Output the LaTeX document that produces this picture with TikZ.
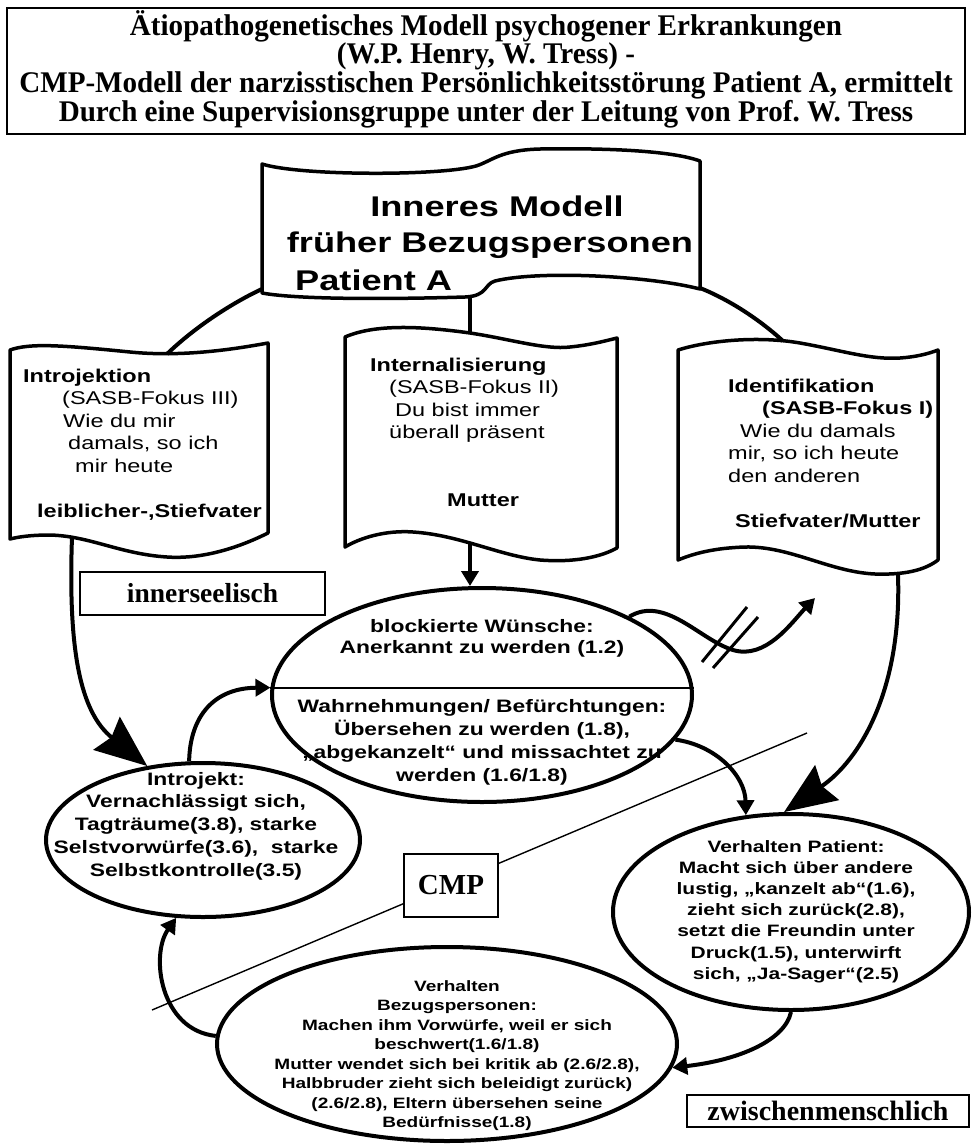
\documentclass[tikz,border=0pt]{standalone}
\usepackage{fontspec}
\usetikzlibrary{shapes.geometric,arrows.meta}
\newfontfamily\wsans{Liberation Sans}[FakeStretch=1.27]
\newfontfamily\tser{Liberation Serif}
\newfontfamily\tsernarrow{Liberation Serif}[FakeStretch=0.97]
% stacked lines with a fixed baseline distance; the box baseline is the first line
\newcommand\centerlines[2]{\vtop{\baselineskip=#1\lineskiplimit=-1000pt\halign{\hfil##\hfil\cr#2\crcr}}}
\newcommand\leftlines[2]{\vtop{\baselineskip=#1\lineskiplimit=-1000pt\halign{##\hfil\cr#2\crcr}}}
\frenchspacing

\begin{document}
\begin{tikzpicture}[x=1pt,y=-1pt,
  frame/.style={draw, line width=2.5pt, inner sep=0pt},
  docline/.style={draw, line width=3.5pt, line join=round, fill=white},
  conn/.style={line width=4pt},
  tip/.style={-{Triangle[width=17pt,length=15pt]}},
  bigtip/.style={-{Stealth[width=42pt,length=52pt,inset=6pt]}},
  ring/.style={ellipse, draw, line width=4pt, fill=white, inner sep=0pt},
  txt/.style={inner sep=0pt, anchor=base},
  serifbox/.style={draw, line width=2.2pt, inner sep=0pt, fill=white,
    font=\tser\bfseries\fontsize{27.5}{30}\selectfont},
]
\useasboundingbox (0,0) rectangle (972,1144);
\fill[white] (0,0) rectangle (972,1144);

% ---------- heading ----------
\node[frame, minimum width=958pt, minimum height=126pt] (head) at (486,71) {};
\node[txt, font=\tsernarrow\bfseries\fontsize{30}{29}\selectfont] (headtxt) at (486,35)
  {\centerlines{28.8pt}{Ätiopathogenetisches Modell psychogener Erkrankungen\cr
   (W.P. Henry, W. Tress) -\cr
   CMP-Modell der narzisstischen Persönlichkeitsstörung Patient A, ermittelt\cr
   Durch eine Supervisionsgruppe unter der Leitung von Prof. W. Tress}};

% ---------- dividing line with the CMP label ----------
\coordinate (cut1) at (152,1010);
\coordinate (cut2) at (807,733);
\draw[line width=1.4pt] (cut1) -- (cut2);
\node[serifbox, minimum width=94pt, minimum height=63pt,
  font=\tser\bfseries\fontsize{29}{30}\selectfont] (cmp) at (451,885.5) {CMP};

% ---------- inner model (top sheet) ----------
\draw[docline] (262,164) .. controls (300,176) and (440,176) .. (476,166)
  .. controls (492,161) and (500,150) .. (540,149)
  .. controls (600,148) and (670,150) .. (700,161)
  -- (700,289) .. controls (650,276) and (540,270) .. (495,281)
  .. controls (484,284) and (488,296) .. (465,297)
  .. controls (400,299) and (300,300) .. (262,293) -- cycle;
\coordinate (Tbl) at (262,289);
\coordinate (Tbr) at (700,288);
\coordinate (Tbot) at (470,297);
\node[txt, font=\wsans\bfseries\fontsize{28.5}{36}\selectfont] (inner1) at (497,216) {Inneres Modell};
\node[txt, font=\wsans\bfseries\fontsize{28.5}{36}\selectfont] (inner2) at (490,252) {früher Bezugspersonen};
\node[txt, anchor=base west, font=\wsans\bfseries\fontsize{28.5}{36}\selectfont] (inner3) at (295,290) {Patient A};

% ---------- Introjektion sheet ----------
\draw[docline] (10,350) .. controls (30,343) and (60,345) .. (130,352)
  .. controls (180,357) and (230,350) .. (268,343)
  -- (268,533) .. controls (230,552) and (195,559) .. (167,557)
  .. controls (120,554) and (90,536) .. (50,535)
  .. controls (30,535) and (18,537) .. (10,539) -- cycle;
\coordinate (Ltop) at (167,354);
\coordinate (Lbot) at (72,537);
\node[txt, anchor=base west, font=\wsans\fontsize{18.5}{22}\selectfont] (introtxt) at (23,382)
  {\leftlines{22.6pt}{\bfseries Introjektion\cr
   \kern39pt(SASB-Fokus III)\cr
   \kern40pt Wie du mir\cr
   \kern45pt damals, so ich\cr
   \kern52pt mir heute\cr
   \cr
   \kern14pt\bfseries leiblicher-,Stiefvater}};

% ---------- Internalisierung sheet ----------
\draw[docline] (345,337) .. controls (375,324) and (420,326) .. (470,333)
  .. controls (510,339) and (545,350) .. (570,347)
  .. controls (590,345) and (605,341) .. (617,338)
  -- (617,548) .. controls (595,560) and (565,562) .. (540,560)
  .. controls (500,556) and (460,535) .. (413,532)
  .. controls (385,530) and (360,538) .. (345,547) -- cycle;
\coordinate (Mtop) at (470,333);
\coordinate (Mbot) at (470,542);
\node[txt, anchor=base west, font=\wsans\fontsize{18.5}{22}\selectfont] (interntxt) at (370,371)
  {\leftlines{22.5pt}{\bfseries Internalisierung\cr
   \kern19pt(SASB-Fokus II)\cr
   \kern25pt Du bist immer\cr
   \kern19pt überall präsent\cr
   \cr
   \cr
   \kern77pt\bfseries Mutter}};

% ---------- Identifikation sheet ----------
\draw[docline] (678,350) .. controls (710,340) and (760,336) .. (800,343)
  .. controls (840,350) and (870,360) .. (900,358)
  .. controls (915,357) and (928,354) .. (938,350)
  -- (938,560) .. controls (925,570) and (905,575) .. (875,574)
  .. controls (830,572) and (790,546) .. (745,547)
  .. controls (715,548) and (695,553) .. (678,560) -- cycle;
\coordinate (Rtop) at (783,341);
\coordinate (Rbot) at (898,575);
\node[txt, anchor=base west, font=\wsans\fontsize{18.5}{22}\selectfont] (identtxt) at (728,392)
  {\leftlines{22.6pt}{\bfseries Identifikation\cr
   \kern34pt\bfseries (SASB-Fokus I)\cr
   \kern12pt Wie du damals\cr
   mir, so ich heute\cr
   den anderen\cr
   \cr
   \kern7pt\bfseries Stiefvater/Mutter}};

% ---------- side labels ----------
\node[serifbox, minimum width=245pt, minimum height=43pt] (innerlbl) at (202.5,593.5) {innerseelisch};
\node[serifbox, minimum width=282pt, minimum height=32pt,
  font=\tser\bfseries\fontsize{28}{30}\selectfont] (interlbl) at (828,1111) {zwischenmenschlich};

% ---------- the cycle ----------
\node[ring, minimum width=420pt, minimum height=214pt] (wish) at (482,695) {};
\draw[line width=2pt] (wish.178) -- (wish.2);
\node[ring, minimum width=314pt, minimum height=154pt] (introj) at (203,840) {};
\node[ring, minimum width=356pt, minimum height=196pt] (patient) at (791,912) {};
\node[ring, minimum width=460pt, minimum height=194pt] (others) at (447,1044) {};

% connectors
\draw[conn] (Tbl) .. controls (232,303) and (195,327) .. (Ltop);
\draw[conn] (Tbr) .. controls (730,300) and (760,320) .. (Rtop);
\draw[conn] (Tbot) -- (Mtop);
\draw[conn, tip] (Mbot) -- (Mbot |- wish.north);
\draw[conn, bigtip] (Lbot) .. controls (68,650) and (80,712) .. (introj.127);
\draw[conn, bigtip] (Rbot) .. controls (902,690) and (860,760) .. (patient.94);
\draw[conn, tip] (wish.-13.6) .. controls (715,745) and (745,775) .. (patient.115);
\coordinate (blocked) at (815,598);
\draw[conn, tip] (wish.28) .. controls (665,595) and (700,640) .. (733,650)
  .. controls (766,660) and (792,622) .. (blocked);
\draw[line width=3pt] (702,662) -- (747,607);
\draw[line width=3pt] (713,668) -- (758,617);
\draw[conn, tip] (introj.100) .. controls (190,715) and (215,688) .. (wish.178);
\draw[conn, tip] (patient.south) .. controls (785,1040) and (740,1060) .. (others.-6);
\draw[conn, tip] (others.178) .. controls (160,1030) and (150,955) .. (introj.251);

% ---------- texts in the cycle ----------
\node[txt, font=\wsans\bfseries\fontsize{18}{21}\selectfont] (wishtop) at (482,632)
  {\centerlines{21.5pt}{blockierte Wünsche:\cr Anerkannt zu werden (1.2)}};
\node[txt, font=\wsans\bfseries\fontsize{18}{21}\selectfont] (wishbot) at (482,712)
  {\centerlines{23.3pt}{Wahrnehmungen/ Befürchtungen:\cr
   Übersehen zu werden (1.8),\cr
   „abgekanzelt“ und missachtet zu\cr
   werden (1.6/1.8)}};
\node[txt, font=\wsans\bfseries\fontsize{18}{21}\selectfont] (introjtxt) at (196,785)
  {\centerlines{22.75pt}{Introjekt:\cr
   Vernachlässigt sich,\cr
   Tagträume(3.8), starke\cr
   Selstvorwürfe(3.6),\ \ starke\cr
   Selbstkontrolle(3.5)}};
\node[txt, font=\wsans\bfseries\fontsize{16.5}{20}\selectfont] (patienttxt) at (796,852)
  {\centerlines{21.2pt}{Verhalten Patient:\cr
   Macht sich über andere\cr
   lustig, „kanzelt ab“(1.6),\cr
   zieht sich zurück(2.8),\cr
   setzt die Freundin unter\cr
   Druck(1.5), unterwirft\cr
   sich, „Ja-Sager“(2.5)}};
\node[txt, font=\wsans\bfseries\fontsize{15}{19}\selectfont] (otherstxt) at (457,991)
  {\centerlines{19.5pt}{Verhalten\cr
   Bezugspersonen:\cr
   Machen ihm Vorwürfe, weil er sich\cr
   beschwert(1.6/1.8)\cr
   Mutter wendet sich bei kritik ab (2.6/2.8),\cr
   Halbbruder zieht sich beleidigt zurück)\cr
   (2.6/2.8), Eltern übersehen seine\cr
   Bedürfnisse(1.8)}};
\end{tikzpicture}
\end{document}
